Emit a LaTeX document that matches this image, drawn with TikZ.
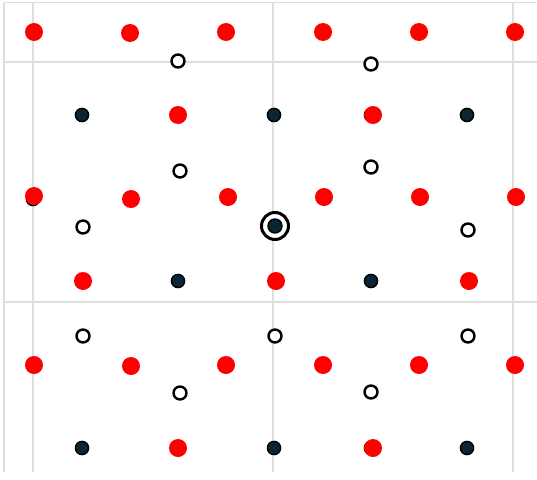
\documentclass[tikz,border=0pt]{standalone}
\begin{document}
\begin{tikzpicture}[x=1pt,y=-1pt,
  gridline/.style={draw=black!13,line width=1.1pt},
  reddot/.style={circle,fill=red,inner sep=0pt,minimum size=18pt},
  darkdot/.style={circle,fill={rgb,255:red,10;green,37;blue,51},draw=black,line width=1.4pt,inner sep=0pt,minimum size=13.2pt},
  opendot/.style={circle,fill=white,draw=black,line width=2.4pt,inner sep=0pt,minimum size=13pt},
  ringmark/.style={circle,fill=white,draw=black,line width=3pt,inner sep=0pt,minimum size=27pt}]
\useasboundingbox[fill=white] (0,0) rectangle (537,479);
% frame and grid
\draw[gridline] (4,2.5) -- (537,2.5);
\draw[gridline] (4,2.5) -- (4,472);
\draw[gridline] (33,2.5) -- (33,472);
\draw[gridline] (273,2.5) -- (273,472);
\draw[gridline] (513,2.5) -- (513,472);
\draw[gridline] (4,62) -- (537,62);
\draw[gridline] (4,302) -- (537,302);
% dark dots
\foreach \p [count=\i] in {(82,115),(274,115),(371,115),(467,115),(33,199),(178,281),(371,281),(82,448),(274,448),(371,448),(467,448)}
  \node[darkdot] (d\i) at \p {};
% red dots
\foreach \p [count=\i] in {(34,32),(130,33),(226,32),(323,32),(419,32),(515,32),
  (178,115),(373,115),
  (34,196),(131,199),(228,197),(324,197),(420,197),(516,197),
  (83,281),(276,281),(469,281),
  (34,365),(131,366),(226,365),(323,365),(419,365),(515,365),
  (178,448),(373,448)}
  \node[reddot] (r\i) at \p {};
% open circles
\foreach \p [count=\i] in {(178,61),(371,64),(180,171),(371,167),(83,227),(468,230),(83,336),(275,336),(468,336),(180,393),(371,392)}
  \node[opendot] (o\i) at \p {};
% centre marker
\node[ringmark] (ring) at (275,226) {};
\node[darkdot,minimum size=14pt] (centre) at (ring.center) {};
\end{tikzpicture}
\end{document}
